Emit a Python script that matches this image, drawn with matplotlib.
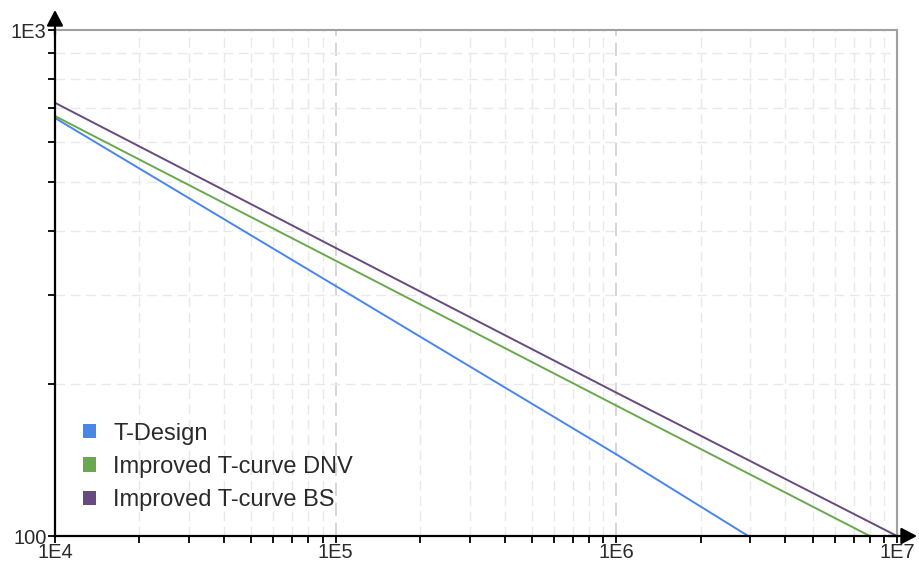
import matplotlib
matplotlib.use("Agg")
import matplotlib.pyplot as plt
from matplotlib.ticker import LogLocator, NullFormatter, FixedLocator, FixedFormatter
from matplotlib.patches import Patch

plt.rcParams['font.family'] = ['Liberation Sans', 'DejaVu Sans']

# S-N curves: number of cycles vs stress range
series_names = ["T-Design", "Improved T-curve DNV", "Improved T-curve BS"]
series_colors = ["#4a86e8", "#6aa84f", "#674a7e"]

t_design_N = [1e4, 1e5, 1e6, 2.95e6]
t_design_S = [670, 312, 145, 100]

dnv_N = [1e4, 1e5, 1e6, 8.0e6]
dnv_S = [676, 350, 181, 100]

bs_N = [1e4, 1e5, 1e6, 1e7]
bs_S = [718, 371, 192, 100]

x_ticks = [1e4, 1e5, 1e6, 1e7]
x_tick_labels = ["1E4", "1E5", "1E6", "1E7"]
y_ticks = [100, 1000]
y_tick_labels = ["100", "1E3"]

fig = plt.figure(figsize=(9.19, 5.67), dpi=100)
ax = fig.add_axes([55 / 919, 1 - 536 / 567, (897 - 55) / 919, (536 - 30) / 567])

ax.set_xscale("log")
ax.set_yscale("log")
ax.set_xlim(1e4, 1e7)
ax.set_ylim(100, 1000)

ax.xaxis.set_major_locator(FixedLocator(x_ticks))
ax.xaxis.set_major_formatter(FixedFormatter(x_tick_labels))
ax.xaxis.set_minor_locator(LogLocator(base=10, subs=range(2, 10)))
ax.xaxis.set_minor_formatter(NullFormatter())
ax.yaxis.set_major_locator(FixedLocator(y_ticks))
ax.yaxis.set_major_formatter(FixedFormatter(y_tick_labels))
ax.yaxis.set_minor_locator(LogLocator(base=10, subs=range(2, 10)))
ax.yaxis.set_minor_formatter(NullFormatter())

# dashed grid: darker for decades, faint for sub-decades
ax.grid(True, which="major", axis="x", color="#cfcfcf", lw=1.2, ls=(0, (8, 4)))
ax.grid(True, which="minor", axis="both", color="#e9e9e9", lw=1.0, ls=(0, (7, 4)))
ax.set_axisbelow(True)

for N, S, name, c in zip([t_design_N, dnv_N, bs_N], [t_design_S, dnv_S, bs_S],
                         series_names, series_colors):
    ax.plot(N, S, color=c, lw=1.4, label=name)

# frame
for side in ("top", "right"):
    ax.spines[side].set_color("#a0a0a0")
    ax.spines[side].set_linewidth(1.5)
for side in ("left", "bottom"):
    ax.spines[side].set_color("black")
    ax.spines[side].set_linewidth(1.6)

ax.tick_params(axis="both", which="both", direction="out", length=5, width=1.3,
               color="black", labelsize=14.5, pad=1)
ax.tick_params(axis="x", which="both", top=False, pad=0)
ax.tick_params(axis="y", which="both", right=False)

# axis arrows
arrow_style = "-|>,head_length=0.95,head_width=0.5"
ax.annotate("", xy=(0, (536 - 10) / 506), xytext=(0, 0.99), xycoords="axes fraction",
            arrowprops=dict(arrowstyle=arrow_style, color="black", lw=1.6,
                            mutation_scale=10, shrinkA=0, shrinkB=0), annotation_clip=False)
ax.annotate("", xy=((917 - 55) / 842, 0), xytext=(0.99, 0), xycoords="axes fraction",
            arrowprops=dict(arrowstyle=arrow_style, color="black", lw=1.6,
                            mutation_scale=10, shrinkA=0, shrinkB=0), annotation_clip=False)

# legend with square swatches
handles = [Patch(facecolor=c, edgecolor="none") for c in series_colors]
leg = ax.legend(handles, series_names, loc="lower left", bbox_to_anchor=(0.033, 0.049),
                frameon=False, fontsize=17, handlelength=0.55, handleheight=0.55,
                handletextpad=0.75, labelspacing=0.48, borderaxespad=0, borderpad=0)
for t in leg.get_texts():
    t.set_color("#2a2a2a")
for t in ax.get_xticklabels() + ax.get_yticklabels():
    t.set_color("#2a2a2a")

fig.savefig("out.png", dpi=100)
